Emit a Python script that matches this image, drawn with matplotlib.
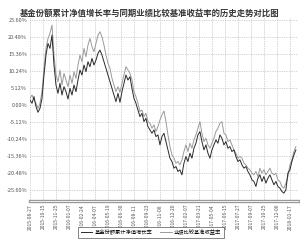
import matplotlib
matplotlib.use("Agg")
import numpy as np
import matplotlib.pyplot as plt
from matplotlib.lines import Line2D

plt.rcParams['font.family'] = ['Noto Sans CJK SC', 'DejaVu Sans']

title = "基金份额累计净值增长率与同期业绩比较基准收益率的历史走势对比图"
fund_label = "基金份额累计净值增长率"
bench_label = "业绩比较基准收益率"

# values in %, sampled evenly along the time axis
fund = [1.5, 0.5, 2.5, -0.5, -2.2, -1.0, 2.0, 9.0, 15.0, 18.5,
        17.0, 21.0, 12.0, 6.0, 3.5, 6.5, 3.0, 5.5, 4.0, 1.8,
        5.0, 3.0, 6.0, 4.0, 7.5, 10.5, 9.0, 12.0, 10.0, 13.0,
        11.5, 14.0, 12.0, 13.5, 15.5, 16.5, 15.0, 13.0, 11.0, 9.0,
        7.0, 5.0, 3.0, 1.0, 3.5, 0.8, 4.0, 6.5, 9.0, 7.5,
        8.5, 5.0, 2.0, 0.5, -1.5, -3.5, -2.5, -5.0, -4.0, -6.5,
        -7.5, -8.5, -7.5, -9.5, -9.0, -12.0, -9.5, -8.5, -11.0, -13.5,
        -16.0, -17.0, -19.0, -18.5, -20.0, -19.5, -21.0, -17.5, -15.5, -17.0,
        -14.5, -16.0, -13.0, -11.5, -9.0, -8.0, -11.0, -13.5, -12.0, -14.5,
        -16.0, -13.5, -12.0, -10.5, -11.5, -9.0, -10.0, -12.0, -11.0, -13.0,
        -12.5, -14.0, -13.5, -15.5, -17.0, -16.5, -18.0, -19.0, -18.5, -20.0,
        -21.0, -22.5, -23.0, -24.5, -22.0, -21.0, -23.0, -21.5, -23.5, -22.0,
        -21.0, -22.5, -24.0, -23.0, -24.5, -25.0, -26.0, -26.5, -25.5, -20.5,
        -19.5, -17.0, -15.0, -13.5]
bench = [2.0, 3.0, 1.5, 0.5, -1.0, 0.5, 4.0, 11.0, 17.0, 20.0,
         21.5, 24.0, 15.0, 9.0, 7.0, 10.5, 6.0, 9.5, 7.5, 5.5,
         9.0, 6.5, 10.0, 8.0, 12.0, 15.0, 13.0, 17.0, 14.5, 18.0,
         20.0, 17.5, 16.0, 18.5, 21.0, 22.0, 20.5, 18.0, 15.0, 12.5,
         11.0, 8.0, 6.0, 4.0, 5.5, 3.8, 6.5, 9.0, 11.5, 10.5,
         9.5, 7.5, 4.0, 2.5, 0.5, -2.0, -1.5, -3.5, -2.5, -5.0,
         -5.5, -7.0, -6.0, -8.0, -6.5, -4.5, -3.0, -1.8, -5.0, -9.0,
         -12.5, -15.0, -16.0, -17.5, -17.0, -18.0, -16.5, -14.0, -12.0, -14.0,
         -11.5, -13.0, -10.5, -9.0, -7.0, -5.0, -8.5, -11.0, -10.0, -12.0,
         -13.0, -11.5, -10.0, -8.0, -7.0, -5.5, -5.0, -8.5, -9.0, -11.0,
         -10.5, -12.0, -13.5, -14.5, -16.0, -15.5, -16.0, -17.5, -18.0, -19.0,
         -19.5, -20.5, -21.0, -20.0, -21.5, -19.0, -20.5, -19.5, -21.0, -20.0,
         -19.0, -20.5, -21.0, -20.5, -22.5, -23.0, -24.5, -25.0, -23.5, -21.5,
         -18.0, -16.5, -14.0, -12.5]

yticks = [25.60, 20.48, 15.36, 10.24, 5.12, 0.00, -5.12, -10.24, -15.36, -20.48, -25.60]
date_labels = ["2015-08-27", "2015-10-15", "2015-11-25", "2016-01-07", "2016-02-24",
               "2016-04-07", "2016-05-19", "2016-06-30", "2016-08-11", "2016-09-23",
               "2016-11-08", "2016-12-20", "2017-02-07", "2017-03-21", "2017-05-04",
               "2017-06-15", "2017-07-27", "2017-09-07", "2017-10-25", "2017-12-06",
               "2018-01-17"]

n = len(fund)
x = np.arange(n)
tick_pos = np.linspace(0, (n - 1) * 260 / 266, len(date_labels))

fig = plt.figure(figsize=(3.0, 2.42), dpi=100)
ax = fig.add_axes([0.10, 0.169, 0.893, 0.756])

ax.plot(x, bench, color="#9a9a9a", lw=0.7, zorder=2)
ax.plot(x, fund, color="#2a2a2a", lw=0.7, zorder=3)

ax.set_xlim(0, (n - 1) * 268 / 266)
ax.set_ylim(-28.9, 26.1)
ax.set_yticks(yticks)
ax.set_yticklabels([f"{v:.2f}%" for v in yticks], fontsize=4, color="#555555")
ax.set_xticks(tick_pos)
ax.set_xticklabels(date_labels, rotation=90, fontsize=3.6, color="#555555")
ax.tick_params(length=0, pad=2)
ax.grid(True, linestyle=(0, (1, 1.5)), color="#aaaaaa", lw=0.5)
ax.set_axisbelow(True)
for s in ["top", "right", "left"]:
    ax.spines[s].set_visible(False)
ax.spines["bottom"].set_color("#999999")
ax.spines["bottom"].set_linewidth(2.4)
ax.plot([0, 1], [0, 0], transform=ax.transAxes, color="white", lw=0.6,
        clip_on=False, zorder=5)

fig.text(0.5, 0.946, title, ha="center", va="center", fontsize=6,
         fontweight="bold", color="#333333")

handles = [Line2D([], [], color="#2a2a2a", lw=0.7),
           Line2D([], [], color="#9a9a9a", lw=0.7)]
fig.legend(handles, [fund_label, bench_label], loc="center", bbox_to_anchor=(0.503, 0.04),
           ncol=2, fontsize=3.8, frameon=True, fancybox=False, edgecolor="#555555",
           framealpha=1, handlelength=2.2, columnspacing=1.5, borderpad=0.5,
           handletextpad=0.4).get_frame().set_linewidth(0.5)

fig.savefig("out.png", dpi=100)
